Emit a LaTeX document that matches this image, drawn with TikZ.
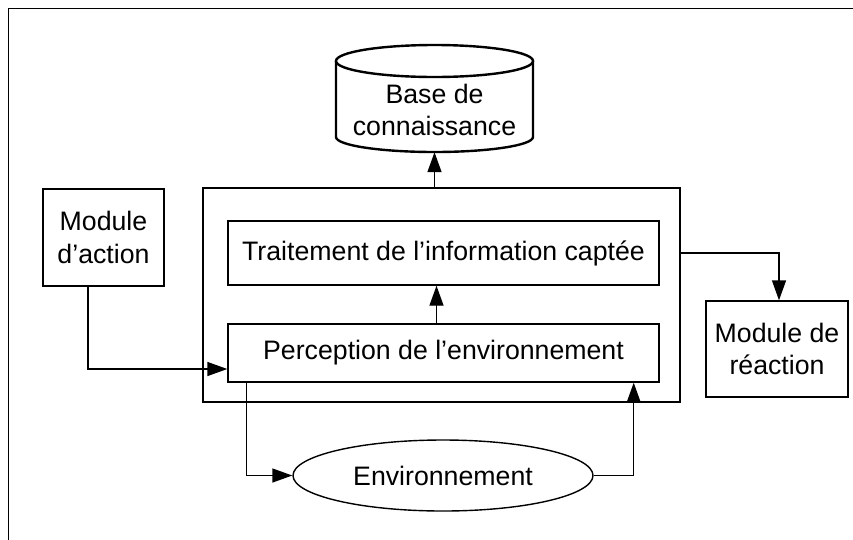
\documentclass[tikz,border=0pt]{standalone}
\usepackage{fontspec}
\setmainfont{Liberation Sans}
\usetikzlibrary{arrows.meta,shapes.geometric,calc}
\begin{document}
\begin{tikzpicture}[x=1pt,y=-1pt,
  every node/.style={font=\fontsize{26.7}{32.5}\selectfont, inner sep=0pt, align=center},
  boxst/.style={draw, line width=1.4pt, rectangle},
  arr/.style={line width=1.4pt, -{Triangle[length=20pt,width=14pt]}},
  ln/.style={line width=1.4pt}]
\useasboundingbox (0,0) rectangle (853,539);
% outer frame
\draw[line width=1.8pt] (8.5,545) -- (8.5,8.5) -- (860,8.5);
% knowledge base cylinder
\node (kb) [minimum width=197pt, minimum height=84pt] at (434.5,110) {Base de\\connaissance};
\draw[line width=2.4pt] (434.5,61) ellipse [x radius=98.5pt, y radius=16pt];
\draw[line width=2.4pt] (336,61) -- (336,137) arc[start angle=180, end angle=360, x radius=98.5pt, y radius=15pt] -- (533,61);
% container
\node (cont) [boxst, minimum width=477pt, minimum height=214pt] at (441.5,295) {};
\node (proc) [boxst, minimum width=431pt, minimum height=64pt] at (443.5,253) {Traitement de l’information captée};
\node (perc) [boxst, minimum width=431pt, minimum height=58pt] at (443.5,353) {Perception de l’environnement};
\node (act) [boxst, minimum width=121pt, minimum height=97pt] at (103.5,237.5) {Module\\d’action};
\node (react) [boxst, minimum width=142pt, minimum height=96pt] at (777,349) {Module de\\réaction};
\node (env) [draw, ellipse, line width=1.4pt, minimum width=300pt, minimum height=71pt] at (443,475.5) {Environnement};
% connectors
\draw[arr] (kb.south |- cont.north) -- (kb.south);
\draw[arr] ([xshift=-7pt]perc.north) -- ([xshift=-7pt]proc.south);
\draw[arr] (cont.east |- proc.east) -| ([xshift=2pt]react.north);
\draw[arr] ([xshift=-15.5pt]act.south) |- ([yshift=-16pt]perc.west);
\draw[arr] ([xshift=19pt]perc.south west) |- (env.west);
\draw[arr] (env.east) -| ([xshift=-26pt]perc.south east);
\end{tikzpicture}
\end{document}
